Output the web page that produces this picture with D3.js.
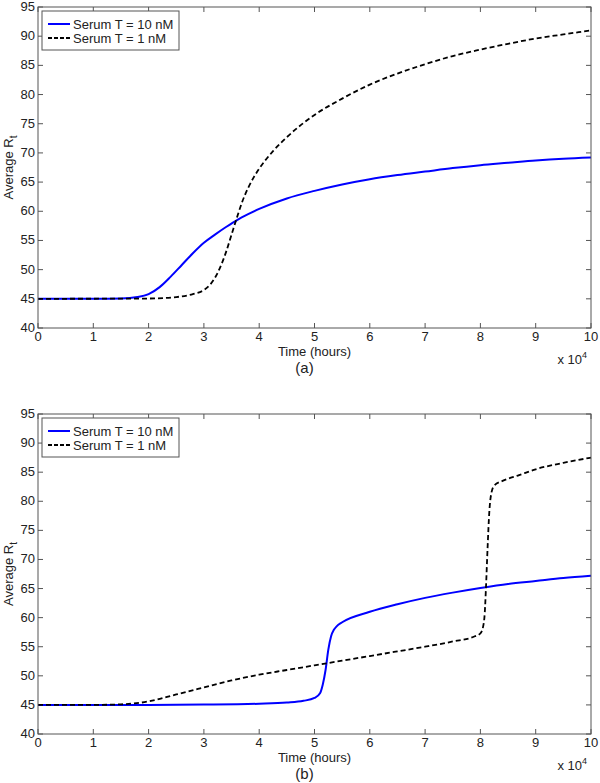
<!DOCTYPE html>
<html>
<head>
<meta charset="utf-8">
<script src="https://cdn.jsdelivr.net/npm/d3@7"></script>
<style>
  body { margin: 0; background: #fff; }
  text { font-family: Arial, "Liberation Sans", Helvetica, sans-serif; fill: #222; }
</style>
</head>
<body>
<div id="chart"></div>
<script>
// time (axis shows x 10^4), average R_t
var timeA10 = [0, 10000, 15000, 18000, 20000, 22000, 24000, 26000, 28000, 30000, 32000, 34000, 36000, 38000, 40000, 45000, 50000, 55000, 60000, 65000, 70000, 75000, 80000, 85000, 90000, 95000, 100000];
var valA10  = [45, 45, 45.05, 45.3, 45.8, 47, 48.8, 50.8, 52.8, 54.6, 56, 57.3, 58.5, 59.5, 60.4, 62.2, 63.5, 64.6, 65.5, 66.2, 66.8, 67.4, 67.9, 68.3, 68.7, 69, 69.2];

var timeA1 = [0, 20000, 25000, 28000, 30000, 31000, 32000, 33000, 34000, 35000, 36000, 37000, 38000, 39000, 40000, 42500, 45000, 50000, 55000, 60000, 65000, 70000, 75000, 80000, 85000, 90000, 95000, 100000];
var valA1  = [45, 45.05, 45.3, 45.8, 46.5, 47.3, 48.6, 50.5, 53, 56, 59, 61.8, 64, 65.8, 67.3, 70.3, 72.7, 76.5, 79.3, 81.7, 83.6, 85.2, 86.6, 87.7, 88.7, 89.6, 90.3, 91];

var timeB10 = [0, 10000, 20000, 30000, 40000, 45000, 48000, 50000, 51000, 51500, 52000, 52500, 53000, 53500, 54000, 55000, 60000, 65000, 70000, 75000, 80000, 85000, 90000, 95000, 100000];
var valB10  = [45, 45, 45, 45.05, 45.2, 45.4, 45.7, 46.2, 47, 48.5, 51, 54.5, 56.8, 57.9, 58.5, 59.2, 61, 62.3, 63.4, 64.3, 65.1, 65.8, 66.3, 66.8, 67.2];

var timeB1 = [0, 10000, 15000, 20000, 25000, 30000, 35000, 40000, 45000, 50000, 55000, 60000, 65000, 70000, 75000, 79000, 80000, 80500, 80800, 81000, 81300, 81600, 82000, 82500, 84000, 87000, 90000, 95000, 100000];
var valB1  = [45, 45, 45.1, 45.6, 46.8, 48, 49.2, 50.2, 51, 51.8, 52.6, 53.4, 54.2, 55, 55.9, 56.8, 57.3, 58.5, 61, 65, 72, 78, 81.5, 82.7, 83.5, 84.5, 85.5, 86.6, 87.5];

var xTicks = [0, 1, 2, 3, 4, 5, 6, 7, 8, 9, 10];
var yTicks = [40, 45, 50, 55, 60, 65, 70, 75, 80, 85, 90, 95];
var legendLabels = ["Serum T = 10 nM", "Serum T = 1 nM"];
var panelLabels = ["(a)", "(b)"];

function zip(t, v) { return t.map(function(d, i) { return [d, v[i]]; }); }

var panels = [
  { top: 7, bottom: 328, label: panelLabels[0], s10: zip(timeA10, valA10), s1: zip(timeA1, valA1) },
  { top: 414, bottom: 734, label: panelLabels[1], s10: zip(timeB10, valB10), s1: zip(timeB1, valB1) }
];

var left = 38, right = 591;
var svg = d3.select('#chart').append('svg').attr('width', 600).attr('height', 783);

function drawPanel(p)
{
  var g = svg.append('g');
  var x = d3.scaleLinear().domain([0, 100000]).range([left, right]);
  var y = d3.scaleLinear().domain([40, 95]).range([p.bottom, p.top]);
  var frame = '#555';

  // ticks (inward, all four sides)
  xTicks.forEach(function(t) {
    var px = x(t * 10000);
    g.append('line').attr('x1', px).attr('x2', px).attr('y1', p.bottom).attr('y2', p.bottom - 5).attr('stroke', frame);
    g.append('line').attr('x1', px).attr('x2', px).attr('y1', p.top).attr('y2', p.top + 5).attr('stroke', frame);
    g.append('text').attr('x', px).attr('y', p.bottom + 13).attr('text-anchor', 'middle').attr('font-size', 13).text(t);
  });
  yTicks.forEach(function(t) {
    var py = y(t);
    g.append('line').attr('x1', left).attr('x2', left + 5).attr('y1', py).attr('y2', py).attr('stroke', frame);
    g.append('line').attr('x1', right).attr('x2', right - 5).attr('y1', py).attr('y2', py).attr('stroke', frame);
    g.append('text').attr('x', left - 3).attr('y', py + 4).attr('text-anchor', 'end').attr('font-size', 13).text(t);
  });

  var line = d3.line().x(function(d) { return x(d[0]); }).y(function(d) { return y(d[1]); }).curve(d3.curveMonotoneX);

  g.append('path').datum(p.s10).attr('d', line).attr('fill', 'none').attr('stroke', '#0000ff').attr('stroke-width', 2);
  g.append('path').datum(p.s1).attr('d', line).attr('fill', 'none').attr('stroke', '#000').attr('stroke-width', 1.8).attr('stroke-dasharray', '5,3');

  g.append('rect').attr('x', left).attr('y', p.top).attr('width', right - left).attr('height', p.bottom - p.top)
    .attr('fill', 'none').attr('stroke', frame);

  // legend
  var lg = g.append('g').attr('transform', 'translate(' + (left + 4) + ',' + (p.top + 4) + ')');
  lg.append('rect').attr('width', 137).attr('height', 39).attr('fill', '#fff').attr('stroke', frame);
  lg.append('line').attr('x1', 6).attr('x2', 28).attr('y1', 13).attr('y2', 13).attr('stroke', '#0000ff').attr('stroke-width', 2);
  lg.append('line').attr('x1', 6).attr('x2', 28).attr('y1', 27).attr('y2', 27).attr('stroke', '#000').attr('stroke-width', 1.8).attr('stroke-dasharray', '4,2');
  lg.append('text').attr('x', 31).attr('y', 18).attr('font-size', 13).text(legendLabels[0]);
  lg.append('text').attr('x', 31).attr('y', 32).attr('font-size', 13).text(legendLabels[1]);

  // axis labels
  var yl = g.append('text').attr('transform', 'translate(13,' + ((p.top + p.bottom) / 2) + ') rotate(-90)')
    .attr('text-anchor', 'middle').attr('font-size', 13);
  yl.append('tspan').text('Average R');
  yl.append('tspan').attr('font-size', 10).attr('dy', 4).text('t');

  g.append('text').attr('x', (left + right) / 2).attr('y', p.bottom + 28).attr('text-anchor', 'middle').attr('font-size', 13).text('Time (hours)');

  var ex = g.append('text').attr('x', right - 4).attr('y', p.bottom + 36).attr('text-anchor', 'end').attr('font-size', 13);
  ex.append('tspan').text('x 10');
  ex.append('tspan').attr('font-size', 9).attr('dy', -6).text('4');

  g.append('text').attr('x', (left + right) / 2 - 10).attr('y', p.bottom + 45).attr('text-anchor', 'middle').attr('font-size', 15).text(p.label);
}

panels.forEach(drawPanel);
</script>
</body>
</html>
